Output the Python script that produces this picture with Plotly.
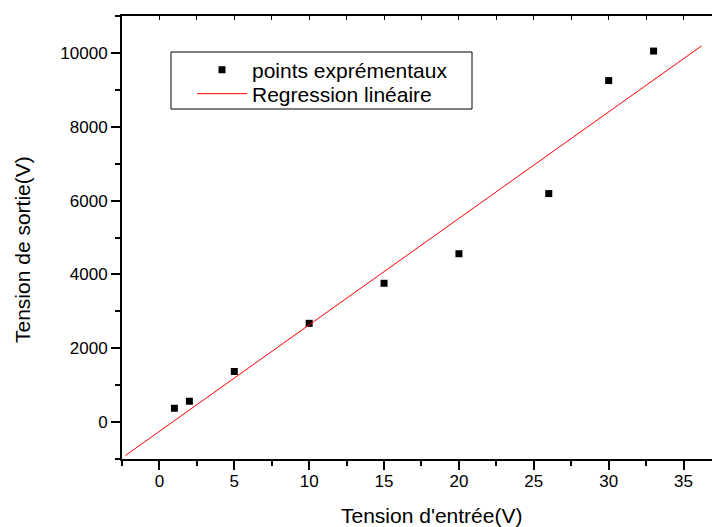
import plotly.graph_objects as go

# Data
x_points = [1, 2, 5, 10, 15, 20, 26, 30, 33]
y_points = [375, 565, 1370, 2675, 3760, 4560, 6190, 9250, 10050]

# Linear regression line endpoints (as drawn in the reference)
x_reg = [-2.27, 36.2]
y_reg = [-905, 10190]

x_title = "Tension d'entrée(V)"
y_title = "Tension de sortie(V)"

FONT = "Liberation Sans, Arial, sans-serif"

PL, PR, PT, PB = 122, 712, 16, 459  # plot area in pixels
PW, PH = PR - PL, PB - PT


def px(x):
    return (x - PL) / PW


def py(y):
    return (PB - y) / PH


fig = go.Figure()
fig.add_trace(go.Scatter(
    x=x_points, y=y_points, mode="markers", name="points exprémentaux",
    marker=dict(symbol="square", size=7, color="black"), legend="legend",
))
fig.add_trace(go.Scatter(
    x=x_reg, y=y_reg, mode="lines", name="Regression linéaire",
    line=dict(color="red", width=1), legend="legend2",
))
# invisible trace to host the top axis
fig.add_trace(go.Scatter(x=[None], y=[None], xaxis="x2", showlegend=False, hoverinfo="skip"))

leg_common = dict(
    xanchor="left", yanchor="middle", bgcolor="rgba(0,0,0,0)", borderwidth=0,
    font=dict(size=21, family=FONT, color="black"), itemwidth=50,
)

fig.update_layout(
    width=712, height=527,
    margin=dict(l=PL, r=712 - PR, t=PT, b=527 - PB),
    paper_bgcolor="white", plot_bgcolor="white",
    font=dict(family=FONT, color="black"),
    showlegend=True,
    legend=dict(x=px(192), y=py(70), **leg_common),
    legend2=dict(x=px(192), y=py(94), **leg_common),
    xaxis=dict(
        range=[-2.5, 36.9], tick0=0, dtick=5, ticks="outside", ticklen=9, tickwidth=1.5,
        tickcolor="black", showline=True, linecolor="black", linewidth=2,
        showgrid=False, zeroline=False, tickfont=dict(size=17), ticklabelstandoff=-3,
        minor=dict(dtick=2.5, tick0=0, ticks="outside", ticklen=5, tickwidth=1.5, tickcolor="black"),
    ),
    xaxis2=dict(
        overlaying="x", matches="x", side="top", range=[-2.5, 36.9],
        tick0=0, dtick=2.5, ticks="inside", ticklen=4, tickwidth=1, tickcolor="black",
        showline=True, linecolor="black", linewidth=2, showticklabels=False,
        showgrid=False, zeroline=False,
    ),
    yaxis=dict(
        range=[-1000, 11000], tick0=0, dtick=2000, tickformat="d", ticks="outside", ticklen=9,
        tickwidth=1.5, tickcolor="black", showline=True, linecolor="black", linewidth=2,
        showgrid=False, zeroline=False, tickfont=dict(size=17),
        minor=dict(dtick=1000, tick0=0, ticks="outside", ticklen=5, tickwidth=1.5, tickcolor="black"),
    ),
    annotations=[
        dict(text=x_title, xref="paper", yref="paper", x=px(431), y=py(515),
             xanchor="center", yanchor="middle", showarrow=False,
             font=dict(size=21, family=FONT, color="black")),
        dict(text=y_title, xref="paper", yref="paper", x=px(22), y=py(250),
             xanchor="center", yanchor="middle", showarrow=False, textangle=-90,
             font=dict(size=21, family=FONT, color="black")),
    ],
    shapes=[dict(
        type="rect", xref="paper", yref="paper",
        x0=px(171), x1=px(472), y0=py(109), y1=py(52),
        line=dict(color="black", width=1), fillcolor="rgba(0,0,0,0)",
    )],
)

fig.write_html("out.html")
